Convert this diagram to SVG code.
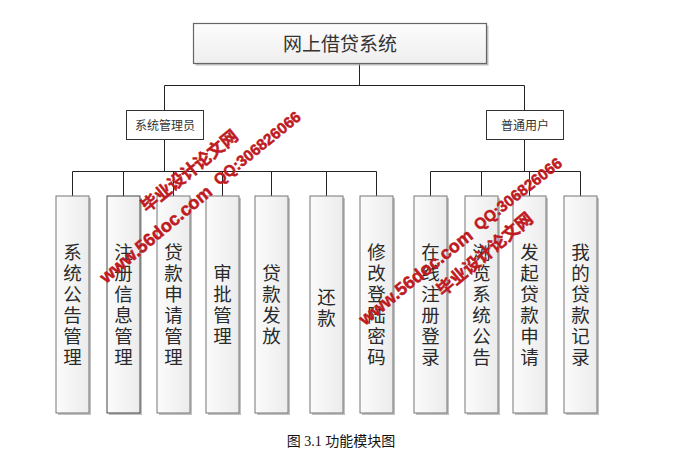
<svg xmlns="http://www.w3.org/2000/svg" width="685" height="461" viewBox="0 0 685 461">
<defs>
<linearGradient id="gBox" x1="0" y1="0" x2="1" y2="0">
<stop offset="0" stop-color="#fbfbfb"/>
<stop offset="1" stop-color="#ececec"/>
</linearGradient>
<linearGradient id="gTop" x1="0" y1="0" x2="0" y2="1">
<stop offset="0" stop-color="#fdfdfd"/>
<stop offset="1" stop-color="#eeeeee"/>
</linearGradient>
</defs>
<style>
.sh{fill:#a8a8a8;opacity:0.7}
.box{fill:url(#gBox);stroke:#777;stroke-width:1}
.top{fill:url(#gTop);stroke:#666;stroke-width:1.2}
.mid{fill:#fff;stroke:#333;stroke-width:1}
.ln{stroke:#222;stroke-width:1;fill:none}
.vt{font-family:"Noto Sans CJK SC","Liberation Sans",sans-serif;font-size:18.5px;fill:#2a2a2a;text-anchor:middle}
.mt{font-family:"Noto Sans CJK SC","Liberation Sans",sans-serif;font-size:12px;fill:#333;text-anchor:middle}
.tt{font-family:"Noto Sans CJK SC","Liberation Sans",sans-serif;font-size:19px;fill:#333;text-anchor:middle}
.cap{font-family:"Liberation Serif","Noto Sans CJK SC",serif;font-size:14px;fill:#111;text-anchor:middle}
.wm{font-family:"Liberation Sans","Noto Sans CJK SC",sans-serif;font-weight:bold;fill:#be1a1f;stroke:#be1a1f;stroke-width:0.5}
</style>
<rect width="685" height="461" fill="#fff"/>
<g id="connectors">
<path class="ln" d="M359.5 63V85.5M164.5 85.5H524.5M164.5 85.5V110M524.5 85.5V110"/>
<path class="ln" d="M164.5 139V171.5M72.5 171.5H376.5M72.5 171.5V196M123.5 171.5V196M173.5 171.5V196M222.5 171.5V196M271.5 171.5V196M326.5 171.5V196M376.5 171.5V196"/>
<path class="ln" d="M524.5 139V171.5M430.5 171.5H580.5M430.5 171.5V196M481.5 171.5V196M529.5 171.5V196M580.5 171.5V196"/>
</g>
<g id="n0">
<rect class="sh" x="195.5" y="25.5" width="293" height="40"/>
<rect class="top" x="193.5" y="23.5" width="293" height="40"/>
<text class="tt" x="340" y="51">网上借贷系统</text>
</g>
<g id="admin">
<rect class="mid" x="126.5" y="110.5" width="77" height="29"/>
<text class="mt" x="165" y="130">系统管理员</text>
</g>
<g id="user">
<rect class="mid" x="486.5" y="110.5" width="77" height="29"/>
<text class="mt" x="525" y="130">普通用户</text>
</g>
<g id="a1">
<rect class="sh" x="58" y="198" width="33" height="217"/>
<rect class="box" x="56" y="196" width="33" height="217"/>
<text class="vt" x="72.5" y="259"><tspan x="72.5">系</tspan><tspan x="72.5" dy="21">统</tspan><tspan x="72.5" dy="21">公</tspan><tspan x="72.5" dy="21">告</tspan><tspan x="72.5" dy="21">管</tspan><tspan x="72.5" dy="21">理</tspan></text>
</g>
<g id="a2">
<rect class="sh" x="109" y="198" width="33" height="217"/>
<rect class="box" x="107" y="196" width="33" height="217" style="stroke:#444"/>
<text class="vt" x="123.5" y="259"><tspan x="123.5">注</tspan><tspan x="123.5" dy="21">册</tspan><tspan x="123.5" dy="21">信</tspan><tspan x="123.5" dy="21">息</tspan><tspan x="123.5" dy="21">管</tspan><tspan x="123.5" dy="21">理</tspan></text>
</g>
<g id="a3">
<rect class="sh" x="159" y="198" width="33" height="217"/>
<rect class="box" x="157" y="196" width="33" height="217"/>
<text class="vt" x="173.5" y="259"><tspan x="173.5">贷</tspan><tspan x="173.5" dy="21">款</tspan><tspan x="173.5" dy="21">申</tspan><tspan x="173.5" dy="21">请</tspan><tspan x="173.5" dy="21">管</tspan><tspan x="173.5" dy="21">理</tspan></text>
</g>
<g id="a4">
<rect class="sh" x="208" y="198" width="33" height="217"/>
<rect class="box" x="206" y="196" width="33" height="217"/>
<text class="vt" x="222.5" y="280"><tspan x="222.5">审</tspan><tspan x="222.5" dy="21">批</tspan><tspan x="222.5" dy="21">管</tspan><tspan x="222.5" dy="21">理</tspan></text>
</g>
<g id="a5">
<rect class="sh" x="257" y="198" width="33" height="217"/>
<rect class="box" x="255" y="196" width="33" height="217"/>
<text class="vt" x="271.5" y="280"><tspan x="271.5">贷</tspan><tspan x="271.5" dy="21">款</tspan><tspan x="271.5" dy="21">发</tspan><tspan x="271.5" dy="21">放</tspan></text>
</g>
<g id="a6">
<rect class="sh" x="312" y="198" width="33" height="217"/>
<rect class="box" x="310" y="196" width="33" height="217"/>
<text class="vt" x="326.5" y="304"><tspan x="326.5">还</tspan><tspan x="326.5" dy="21">款</tspan></text>
</g>
<g id="a7">
<rect class="sh" x="362" y="198" width="33" height="217"/>
<rect class="box" x="360" y="196" width="33" height="217"/>
<text class="vt" x="376.5" y="259"><tspan x="376.5">修</tspan><tspan x="376.5" dy="21">改</tspan><tspan x="376.5" dy="21">登</tspan><tspan x="376.5" dy="21">陆</tspan><tspan x="376.5" dy="21">密</tspan><tspan x="376.5" dy="21">码</tspan></text>
</g>
<g id="u1">
<rect class="sh" x="416" y="198" width="33" height="217"/>
<rect class="box" x="414" y="196" width="33" height="217"/>
<text class="vt" x="430.5" y="259"><tspan x="430.5">在</tspan><tspan x="430.5" dy="21">线</tspan><tspan x="430.5" dy="21">注</tspan><tspan x="430.5" dy="21">册</tspan><tspan x="430.5" dy="21">登</tspan><tspan x="430.5" dy="21">录</tspan></text>
</g>
<g id="u2">
<rect class="sh" x="467" y="198" width="33" height="217"/>
<rect class="box" x="465" y="196" width="33" height="217"/>
<text class="vt" x="481.5" y="259"><tspan x="481.5">浏</tspan><tspan x="481.5" dy="21">览</tspan><tspan x="481.5" dy="21">系</tspan><tspan x="481.5" dy="21">统</tspan><tspan x="481.5" dy="21">公</tspan><tspan x="481.5" dy="21">告</tspan></text>
</g>
<g id="u3">
<rect class="sh" x="515" y="198" width="33" height="217"/>
<rect class="box" x="513" y="196" width="33" height="217"/>
<text class="vt" x="529.5" y="259"><tspan x="529.5">发</tspan><tspan x="529.5" dy="21">起</tspan><tspan x="529.5" dy="21">贷</tspan><tspan x="529.5" dy="21">款</tspan><tspan x="529.5" dy="21">申</tspan><tspan x="529.5" dy="21">请</tspan></text>
</g>
<g id="u4">
<rect class="sh" x="566" y="198" width="33" height="217"/>
<rect class="box" x="564" y="196" width="33" height="217"/>
<text class="vt" x="580.5" y="259"><tspan x="580.5">我</tspan><tspan x="580.5" dy="21">的</tspan><tspan x="580.5" dy="21">贷</tspan><tspan x="580.5" dy="21">款</tspan><tspan x="580.5" dy="21">记</tspan><tspan x="580.5" dy="21">录</tspan></text>
</g>
<text class="cap" x="341" y="446">图 3.1 功能模块图</text>
<g id="watermark">
<text class="wm" font-size="18" transform="translate(106 284) rotate(-40)">www.56doc.com</text>
<text class="wm" font-size="17" transform="translate(147 213) rotate(-39)">毕业设计论文网</text>
<text class="wm" font-size="15.5" transform="translate(219 186) rotate(-39)">QQ:306826066</text>
<text class="wm" font-size="18" transform="translate(365 326) rotate(-39)">www.56doc.com</text>
<text class="wm" font-size="17" transform="translate(443 297) rotate(-40)">毕业设计论文网</text>
<text class="wm" font-size="15.5" transform="translate(479 231) rotate(-38)">QQ:306826066</text>
</g>
</svg>
